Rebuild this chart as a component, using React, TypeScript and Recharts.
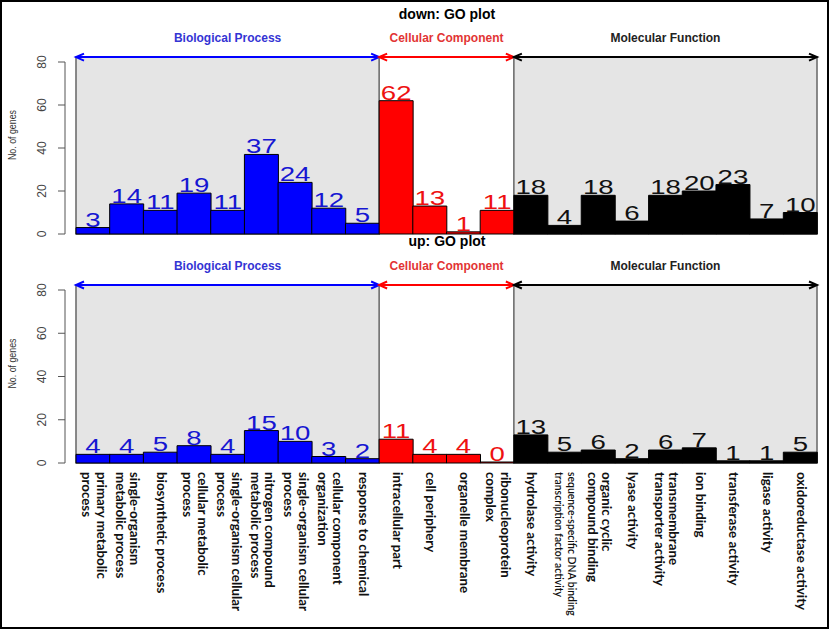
import React from 'react';
import { BarChart, Bar, XAxis, YAxis, ReferenceArea, LabelList } from 'recharts';

const bpLabels = [
  'primary metabolic\nprocess',
  'single-organism\nmetabolic process',
  'biosynthetic process',
  'cellular metabolic\nprocess',
  'single-organism cellular\nprocess',
  'nitrogen compound\nmetabolic process',
  'single-organism cellular\nprocess',
  'cellular component\norganization',
  'response to chemical',
];
const ccLabels = ['intracellular part', 'cell periphery', 'organelle membrane', 'ribonucleoprotein\ncomplex'];
const mfLabels = [
  'hydrolase activity',
  'sequence-specific DNA binding\ntranscription factor activity',
  'organic cyclic\ncompound binding',
  'lyase activity',
  'transmembrane\ntransporter activity',
  'ion binding',
  'transferase activity',
  'ligase activity',
  'oxidoreductase activity',
];

const downBP = [3, 14, 11, 19, 11, 37, 24, 12, 5];
const downCC = [62, 13, 1, 11];
const downMF = [18, 4, 18, 6, 18, 20, 23, 7, 10];
const upBP = [4, 4, 5, 8, 4, 15, 10, 3, 2];
const upCC = [11, 4, 4, 0];
const upMF = [13, 5, 6, 2, 6, 7, 1, 1, 5];

const yTicks = [0, 20, 40, 60, 80];
const groupNames = ['Biological Process', 'Cellular Component', 'Molecular Function'];
const panelTitles = ['down: GO plot', 'up: GO plot'];

const allLabels = [...bpLabels, ...ccLabels, ...mfLabels];
const nBP = bpLabels.length;
const nCC = ccLabels.length;

function build(bp: number[], cc: number[], mf: number[]) {
  return allLabels.map((_, i) => ({
    key: String(i),
    bp: i < nBP ? bp[i] : undefined,
    cc: i >= nBP && i < nBP + nCC ? cc[i - nBP] : undefined,
    mf: i >= nBP + nCC ? mf[i - nBP - nCC] : undefined,
  }));
}

const downData = build(downBP, downCC, downMF);
const upData = build(upBP, upCC, upMF);

const groups = [
  { x1: '0', x2: String(nBP - 1), color: '#0000ff', text: '#3434d4', boxed: true, name: groupNames[0] },
  { x1: String(nBP), x2: String(nBP + nCC - 1), color: '#ff0000', text: '#e23434', boxed: false, name: groupNames[1] },
  { x1: String(nBP + nCC), x2: String(allLabels.length - 1), color: '#000000', text: '#222222', boxed: true, name: groupNames[2] },
];

const BOX_TOP = 82.3;

const makeGroupShape = (g: any) => (p: any) => {
  const { x, y, width, height } = p;
  const x2 = x + width;
  const ah = 8;
  const aw = 3.5;
  return (
    <g>
      {g.boxed && (
        <rect x={x} y={y} width={width} height={height} fill="#e5e5e5" stroke="#6e6e6e" strokeWidth={1.6} />
      )}
      <line x1={x} y1={y} x2={x2} y2={y} stroke={g.color} strokeWidth={2} />
      <polyline points={`${x + ah},${y - aw} ${x},${y} ${x + ah},${y + aw}`} fill="none" stroke={g.color} strokeWidth={2} />
      <polyline points={`${x2 - ah},${y - aw} ${x2},${y} ${x2 - ah},${y + aw}`} fill="none" stroke={g.color} strokeWidth={2} />
      <text
        x={x + width / 2}
        y={y - 15}
        textAnchor="middle"
        fontFamily="Liberation Sans, Arial, sans-serif"
        fontWeight={700}
        fontSize={12}
        fill={g.text}
      >
        {g.name}
      </text>
    </g>
  );
};

const makeValueLabel = (color: string) => (p: any) => {
  const { x, y, width, height, value } = p;
  if (value === undefined || value === null) return null;
  const cx = Number(x) + Number(width) / 2;
  const top = Number(y) + Math.min(0, Number(height) || 0);
  return (
    <text
      transform={`translate(${cx},${top - 1}) scale(1.38,1)`}
      textAnchor="middle"
      fontFamily="Liberation Sans, Arial, sans-serif"
      fontSize={20}
      fill={color}
    >
      {value}
    </text>
  );
};

const YTick = (p: any) => {
  const { x, y, payload } = p;
  return (
    <text
      x={x}
      y={y}
      transform={`rotate(-90 ${x} ${y})`}
      textAnchor="middle"
      fontFamily="Liberation Sans, Arial, sans-serif"
      fontSize={12}
      fill="#444"
    >
      {payload.value}
    </text>
  );
};

const renderYLabel = (p: any) => {
  const vb = p.viewBox || {};
  const x = (vb.x || 0) + 16;
  const y = (vb.y || 0) + (vb.height || 0) / 2 - 13;
  return (
    <text
      x={x}
      y={y}
      transform={`rotate(-90 ${x} ${y})`}
      textAnchor="middle"
      fontFamily="Liberation Sans, Arial, sans-serif"
      fontSize={11.5}
      textLength={50}
      lengthAdjust="spacingAndGlyphs"
      fill="#333"
    >
      No. of genes
    </text>
  );
};

const XTick = (p: any) => {
  const { x, y, payload } = p;
  const label = allLabels[Number(payload.value)] || '';
  const lines = label.split('\n');
  const small = label.startsWith('sequence');
  const fs = small ? 10.4 : 13.3;
  const lh = small ? 12.5 : 14.5;
  const xh = small ? 2.7 : 3.3;
  const v1 = xh - ((lines.length - 1) * lh) / 2;
  return (
    <g transform={`translate(${x},${Number(y) + 9}) rotate(90)`}>
      {lines.map((ln, i) => (
        <text
          key={i}
          x={0}
          y={v1 + i * lh}
          fontFamily="Lato, Open Sans, sans-serif"
          fontWeight={small ? 600 : 700}
          fontSize={fs}
          fill="#111"
          textAnchor="start"
        >
          {ln}
        </text>
      ))}
    </g>
  );
};

const Panel = ({ data, showX, height, bottom }: any) => (
  <BarChart
    width={830}
    height={height}
    data={data}
    margin={{ top: 62, right: 13, bottom, left: 0 }}
    barCategoryGap={0}
    barGap={0}
  >
    <XAxis
      dataKey="key"
      type="category"
      hide={!showX}
      padding={{ left: 11, right: 0 }}
      interval={0}
      axisLine={false}
      tickLine={false}
      tickSize={0}
      tickMargin={0}
      height={showX ? 160 : 0}
      tick={<XTick />}
    />
    <YAxis
      domain={[0, 80]}
      ticks={yTicks}
      interval={0}
      width={65}
      tickSize={7}
      tickMargin={12}
      stroke="#555"
      tick={<YTick />}
      label={{ position: 'insideLeft', content: renderYLabel }}
    />
    {groups.map((g, i) => (
      <ReferenceArea
        key={i}
        x1={g.x1}
        x2={g.x2}
        y1={0}
        y2={BOX_TOP}
        ifOverflow="visible"
        shape={makeGroupShape(g)}
      />
    ))}
    <Bar dataKey="bp" stackId="a" fill="#0000ff" stroke="#000" strokeWidth={1} isAnimationActive={false}>
      <LabelList dataKey="bp" content={makeValueLabel('#1616d2')} />
    </Bar>
    <Bar
      dataKey="cc"
      stackId="a"
      fill="#ff0000"
      stroke="#000"
      strokeWidth={1}
      isAnimationActive={false}
      minPointSize={(v: any, i: number) => (data[i] && data[i].cc === 0 ? 1 : 0)}
    >
      <LabelList dataKey="cc" content={makeValueLabel('#ee1111')} />
    </Bar>
    <Bar dataKey="mf" stackId="a" fill="#000000" stroke="#000" strokeWidth={1} isAnimationActive={false}>
      <LabelList dataKey="mf" content={makeValueLabel('#111111')} />
    </Bar>
  </BarChart>
);

const titleStyle: React.CSSProperties = {
  position: 'absolute',
  left: 0,
  width: 894,
  textAlign: 'center',
  fontFamily: 'Liberation Sans, Arial, sans-serif',
  fontWeight: 700,
  fontSize: 14,
  lineHeight: '14px',
  color: '#000',
};

export default function App() {
  return (
    <div style={{ position: 'absolute', left: 0, top: 0, width: 830, height: 630, background: '#fff', overflow: 'hidden' }}>
      <div style={{ position: 'absolute', left: 0, top: 0 }}>
        <Panel data={downData} showX={false} height={242} bottom={8} />
      </div>
      <div style={{ position: 'absolute', left: 0, top: 228 }}>
        <Panel data={upData} showX={true} height={400} bottom={5} />
      </div>
      <div style={{ ...titleStyle, top: 7 }}>{panelTitles[0]}</div>
      <div style={{ ...titleStyle, top: 234 }}>{panelTitles[1]}</div>
      <div
        style={{
          position: 'absolute',
          left: 0,
          top: 0,
          width: 825,
          height: 625,
          border: '2px solid #000',
          pointerEvents: 'none',
        }}
      />
    </div>
  );
}
